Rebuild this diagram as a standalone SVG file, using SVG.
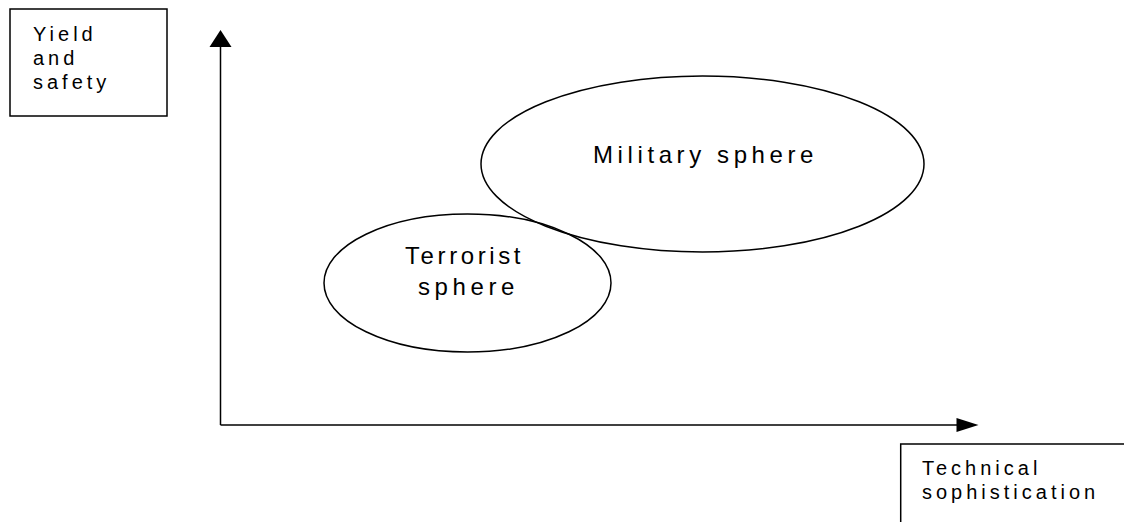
<svg xmlns="http://www.w3.org/2000/svg" width="1124" height="522" viewBox="0 0 1124 522">
<style>
.shape{fill:none;stroke:#000;stroke-width:1.5}
.lbl{font-family:"Liberation Sans",Arial,sans-serif;font-size:20px;letter-spacing:4px;fill:#000}
.big{font-family:"Liberation Sans",Arial,sans-serif;font-size:24px;fill:#000}
.axis{stroke:#000;stroke-width:1.5;fill:none}
.head{fill:#000;stroke:none}
</style>
<rect width="1124" height="522" fill="#fff"/>
<g id="connectors">
<line class="axis" x1="220.5" y1="425" x2="220.5" y2="45"/>
<polygon class="head" points="220.5,30 209.5,47 231.5,47"/>
<line class="axis" x1="220.5" y1="425" x2="958" y2="425"/>
<polygon class="head" points="978.5,425 956.5,418 956.5,432"/>
</g>
<g id="yield-box">
<rect class="shape" x="10" y="9" width="157" height="107"/>
<text class="lbl" x="33" y="41">Yield</text>
<text class="lbl" x="33" y="65">and</text>
<text class="lbl" x="33" y="89">safety</text>
</g>
<g id="tech-box">
<path class="shape" d="M900.7,524 V444 H1126"/>
<text class="lbl" x="922" y="475">Technical</text>
<text class="lbl" x="922" y="499">sophistication</text>
</g>
<g id="terrorist">
<ellipse class="shape" cx="467.5" cy="283" rx="143.5" ry="69"/>
<text class="big" x="405" y="264" letter-spacing="3.6">Terrorist</text>
<text class="big" x="418" y="295" letter-spacing="4.6">sphere</text>
</g>
<g id="military">
<ellipse class="shape" cx="702.5" cy="164" rx="221.5" ry="88"/>
<text class="big" x="593" y="163" letter-spacing="4.6">Military sphere</text>
</g>
</svg>
